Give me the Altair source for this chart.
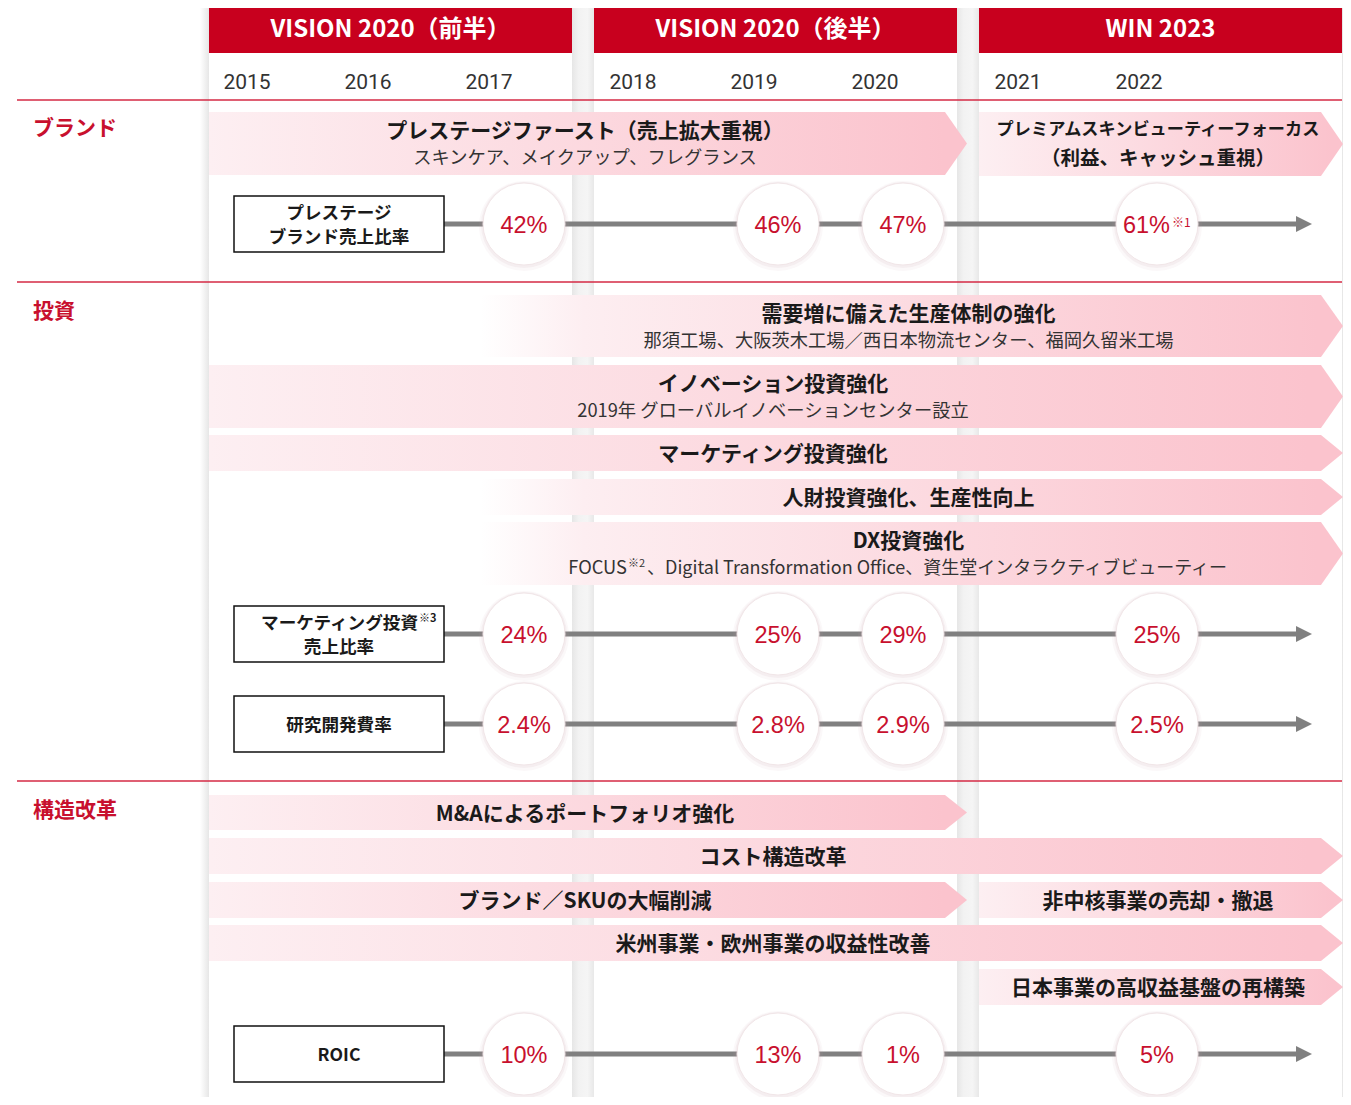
import altair as alt
import pandas as pd

FONT = "Noto Sans CJK JP"
NUMFONT = "Liberation Sans"
YEARFONT = "Roboto"
RED = "#c8001e"
TXT_RED = "#c8102e"
INK = "#1a1a1a"

# ---------------- data ----------------
phases = ["VISION 2020（前半）", "VISION 2020（後半）", "WIN 2023"]
years = ["2015", "2016", "2017", "2018", "2019", "2020", "2021", "2022"]
sections = ["ブランド", "投資", "構造改革"]

band_titles = [
    "プレステージファースト（売上拡大重視）",
    "プレミアムスキンビューティーフォーカス",
    "需要増に備えた生産体制の強化",
    "イノベーション投資強化",
    "マーケティング投資強化",
    "人財投資強化、生産性向上",
    "DX投資強化",
    "M&Aによるポートフォリオ強化",
    "コスト構造改革",
    "ブランド／SKUの大幅削減",
    "非中核事業の売却・撤退",
    "米州事業・欧州事業の収益性改善",
    "日本事業の高収益基盤の再構築",
]
band_subtitles = [
    "スキンケア、メイクアップ、フレグランス",
    "（利益、キャッシュ重視）",
    "那須工場、大阪茨木工場／西日本物流センター、福岡久留米工場",
    "2019年 グローバルイノベーションセンター設立",
    "",
    "",
    "FOCUS※2、Digital Transformation Office、資生堂インタラクティブビューティー",
    "", "", "", "", "", "",
]

metric_labels = [
    ["プレステージ", "ブランド売上比率"],
    ["マーケティング投資※3", "売上比率"],
    ["研究開発費率"],
    ["ROIC"],
]
metric_values = [
    ["42%", "46%", "47%", "61%※1"],
    ["24%", "25%", "29%", "25%"],
    ["2.4%", "2.8%", "2.9%", "2.5%"],
    ["10%", "13%", "1%", "5%"],
]

# ---------------- layout (pixels) ----------------
W, H = 1335, 1089
col_x0 = [209, 594, 979]
COL_W = 363
year_x = [247, 368, 489, 633, 754, 875, 1018, 1139]
section_y = [127, 310, 809]
divider_y = [100, 282, 781]
# (x start, tip x, top, bottom, fades in from white, compact two-line bold style)
band_geom = [
    (209, 967, 112, 175, False, False),
    (979, 1343, 112, 176, False, True),
    (480, 1343, 295, 357, True, False),
    (209, 1343, 365, 428, False, False),
    (209, 1343, 435, 471, False, False),
    (480, 1343, 479, 515, True, False),
    (480, 1343, 522, 585, True, False),
    (209, 967, 795, 830, False, False),
    (209, 1343, 838, 874, False, False),
    (209, 967, 882, 918, False, False),
    (979, 1343, 882, 918, False, False),
    (209, 1343, 925, 961, False, False),
    (979, 1343, 969, 1005, False, False),
]
TIP = 22
circle_x = [524, 778, 903, 1157]
metric_y = [224, 634, 724, 1054]
BOX_X0, BOX_X1, BOX_HALF = 234, 444, 28
LINE_END = 1298
DY = 2

xs = alt.Scale(domain=[8, 8 + W], nice=False, zero=False)
ys = alt.Scale(domain=[8, 8 + H], nice=False, zero=False, reverse=True)


def XE(f="x"):
    return alt.X(f + ":Q", scale=xs, axis=None)


def YE(f="y"):
    return alt.Y(f + ":Q", scale=ys, axis=None)


def hgrad(stops):
    return alt.LinearGradient(
        gradient="linear",
        stops=[alt.GradientStop(color=c, offset=o) for o, c in stops],
        x1=0, x2=1, y1=0, y2=0,
    )


def rect_layer(rows, **kw):
    return alt.Chart(pd.DataFrame(rows)).mark_rect(**kw).encode(
        x=XE(), x2=alt.X2("x2:Q"), y=YE(), y2=alt.Y2("y2:Q"))


def text_layer(rows, size, color, weight="normal", align="center", font=FONT):
    return alt.Chart(pd.DataFrame(rows)).mark_text(
        font=font, fontSize=size, fill=color, fontWeight=weight, align=align,
        baseline="middle", dy=DY
    ).encode(x=XE(), y=YE(), text="t:N")


def rule_layer(rows, color, width):
    return alt.Chart(pd.DataFrame(rows)).mark_rule(color=color, strokeWidth=width).encode(
        x=XE(), x2=alt.X2("x2:Q"), y=YE())


layers = []

# column shadows / gutters
layers.append(rect_layer([{"x": 200, "x2": 209, "y": 0, "y2": 1105}],
                         fill=hgrad([(0, "#ffffff"), (1, "#e6e6e6")])))
layers.append(rect_layer([{"x": 1342, "x2": 1351, "y": 0, "y2": 1105}],
                         fill=hgrad([(0, "#e6e6e6"), (1, "#ffffff")])))
gut = [{"x": col_x0[i] + COL_W, "x2": col_x0[i + 1], "y": 0, "y2": 1105} for i in range(2)]
layers.append(rect_layer(gut, fill=hgrad([(0, "#e6e6e6"), (0.3, "#f2f2f2"), (0.7, "#f5f5f5"), (1, "#e8e8e8")])))

# header bars
layers.append(rect_layer([{"x": x0, "x2": x0 + COL_W, "y": 7, "y2": 53} for x0 in col_x0], fill=RED))
layers.append(text_layer([{"x": x0 + COL_W / 2, "y": 28, "t": p} for x0, p in zip(col_x0, phases)],
                         24, "#ffffff", weight="bold"))

# years
layers.append(text_layer([{"x": x, "y": 81, "t": y} for x, y in zip(year_x, years)], 21, "#333333",
                         font=YEARFONT))

# dividers and section labels
layers.append(rule_layer([{"x": 17, "x2": 1342, "y": y} for y in divider_y], "#d42a45", 1.5))
layers.append(text_layer([{"x": 33, "y": y, "t": s} for y, s in zip(section_y, sections)],
                         21, TXT_RED, weight="bold", align="left"))

# bands (arrow pentagons)
solid_rows, fade_rows = [], []
for i, (x0, xt, top, bot, fade, _) in enumerate(band_geom):
    mid = (top + bot) / 2
    pts = [(x0, top, bot), (xt - TIP, top, bot), (xt, mid, mid)]
    target = fade_rows if fade else solid_rows
    for (x, a, b) in pts:
        target.append({"id": i, "x": x, "y": a, "y2": b})

layers.append(alt.Chart(pd.DataFrame(solid_rows)).mark_area(
    opacity=1, fill=hgrad([(0, "#fdeff2"), (0.97, "#fbc3cd"), (1, "#fbc3cd")])
).encode(x=XE(), y=YE(), y2=alt.Y2("y2:Q"), detail="id:N"))
layers.append(alt.Chart(pd.DataFrame(fade_rows)).mark_area(
    opacity=1, fill=hgrad([(0, "#ffffff"), (0.12, "#fdeef1"), (0.97, "#fbc3cd"), (1, "#fbc3cd")])
).encode(x=XE(), y=YE(), y2=alt.Y2("y2:Q"), detail="id:N"))

# band texts
title_rows, ctitle_rows, sub_rows, subb_rows, note_rows, left_rows, right_rows = [], [], [], [], [], [], []
for (x0, xt, top, bot, fade, compact), t, s in zip(band_geom, band_titles, band_subtitles):
    cx = (x0 + xt) / 2 - 3
    if s:
        if compact:
            ctitle_rows.append({"x": cx, "y": top + 16, "t": t})
            subb_rows.append({"x": cx, "y": top + 45, "t": s})
            continue
        title_rows.append({"x": cx, "y": top + 18, "t": t})
        if "※" in s:
            head, rest = s.split("※", 1)
            num, tail = rest[0], rest[1:]
            right_rows.append({"x": 627, "y": top + 45, "t": head})
            note_rows.append({"x": 628, "y": top + 40, "t": "※" + num})
            left_rows.append({"x": 647, "y": top + 45, "t": tail})
        else:
            sub_rows.append({"x": cx, "y": top + 45, "t": s})
    else:
        title_rows.append({"x": cx, "y": (top + bot) / 2, "t": t})

layers.append(text_layer(title_rows, 21, INK, weight="bold"))
layers.append(text_layer(ctitle_rows, 17.2, INK, weight="bold"))
layers.append(text_layer(subb_rows, 19.5, INK, weight="bold"))
layers.append(text_layer(sub_rows, 18.3, "#333333"))
layers.append(text_layer(right_rows, 18.3, "#333333", align="right"))
layers.append(text_layer(left_rows, 18.0, "#333333", align="left"))
layers.append(text_layer(note_rows, 11, "#333333", align="left"))

# metric rows: connector lines + arrowheads
layers.append(rule_layer([{"x": BOX_X1, "x2": LINE_END, "y": y} for y in metric_y], "#808080", 5))
tri = []
for i, y in enumerate(metric_y):
    tri += [{"id": i, "x": LINE_END - 2, "y": y - 8, "y2": y + 8}, {"id": i, "x": LINE_END + 14, "y": y, "y2": y}]
layers.append(alt.Chart(pd.DataFrame(tri)).mark_area(opacity=1, fill="#808080").encode(
    x=XE(), y=YE(), y2=alt.Y2("y2:Q"), detail="id:N"))

# label boxes
layers.append(rect_layer([{"x": BOX_X0, "x2": BOX_X1, "y": y - BOX_HALF, "y2": y + BOX_HALF} for y in metric_y],
                         fill="#ffffff", stroke="#111111", strokeWidth=1.5))
box_main, box_right, box_note = [], [], []
bcx = (BOX_X0 + BOX_X1) / 2
for y, lines in zip(metric_y, metric_labels):
    n = len(lines)
    for k, line in enumerate(lines):
        ly = y + (k - (n - 1) / 2) * 24
        if "※" in line:
            head, num = line.split("※")
            box_right.append({"x": 418, "y": ly, "t": head})
            box_note.append({"x": 419, "y": ly - 5, "t": "※" + num})
        else:
            box_main.append({"x": bcx, "y": ly, "t": line})
layers.append(text_layer(box_main, 17.6, INK, weight="bold"))
layers.append(text_layer(box_right, 17.6, INK, weight="bold", align="right"))
layers.append(text_layer(box_note, 11, INK, weight="bold", align="left"))

# circles
circ = [{"x": cx, "y": y} for y in metric_y for cx in circle_x]
cdf = pd.DataFrame(circ)
layers.append(alt.Chart(cdf).mark_circle(size=90 ** 2, color="#c89aa4", opacity=0.07, yOffset=2).encode(x=XE(), y=YE()))
layers.append(alt.Chart(cdf).mark_circle(size=86 ** 2, color="#c89aa4", opacity=0.10, yOffset=1).encode(x=XE(), y=YE()))
layers.append(alt.Chart(cdf).mark_circle(size=82 ** 2, color="#ffffff", opacity=1,
                                         stroke="#f1e6e8", strokeWidth=1).encode(x=XE(), y=YE()))

val_c, val_r, val_n = [], [], []
for y, vals in zip(metric_y, metric_values):
    for cx, v in zip(circle_x, vals):
        if "※" in v:
            head, num = v.split("※")
            val_r.append({"x": cx + 13, "y": y, "t": head})
            val_n.append({"x": cx + 15, "y": y - 3, "t": "※" + num})
        else:
            val_c.append({"x": cx, "y": y, "t": v})
layers.append(text_layer(val_c, 23.5, TXT_RED, font=NUMFONT))
layers.append(text_layer(val_r, 23.5, TXT_RED, align="right", font=NUMFONT))
layers.append(text_layer(val_n, 12, TXT_RED, align="left"))

chart = alt.layer(*layers).properties(
    width=W, height=H, padding=0, autosize=alt.AutoSizeParams(type="none"),
    background="#ffffff",
).configure_view(stroke=None)

chart.save("out.html", embed_options={"renderer": "svg", "actions": False})
